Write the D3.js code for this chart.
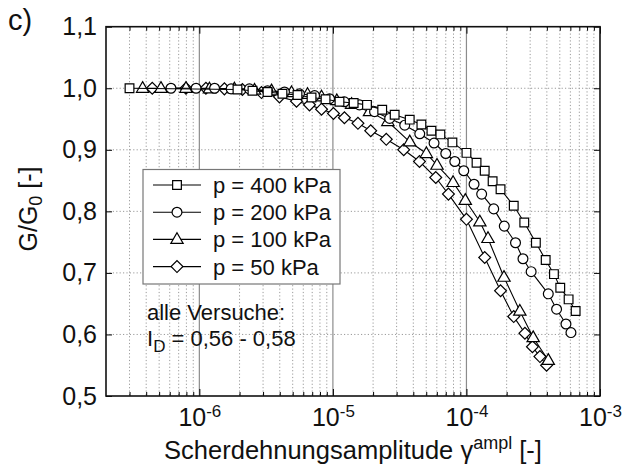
<!DOCTYPE html>
<html>
<head>
<meta charset="utf-8">
<script src="https://cdn.jsdelivr.net/npm/d3@7"></script>
<style>
  html, body { margin: 0; padding: 0; background: #fff; }
  svg { display: block; font-family: "Liberation Sans", Arial, Helvetica, sans-serif; }
</style>
</head>
<body>
<svg id="chart" width="629" height="470"></svg>
<script>
// ---------- data ----------
const seriesLabels = ["p = 400 kPa", "p = 200 kPa", "p = 100 kPa", "p = 50 kPa"];
const seriesSymbols = ["square", "circle", "triangle", "diamond"];

const gamma400 = [3.0e-7, 1.93e-6, 2.5e-6, 3.24e-6, 4.19e-6, 5.43e-6, 6.92e-6, 8.81e-6, 1.12e-5, 1.43e-5,
  1.80e-5, 2.34e-5, 2.90e-5, 3.76e-5, 4.60e-5, 5.47e-5, 6.38e-5, 7.85e-5, 1.0e-4, 1.19e-4,
  1.37e-4, 1.57e-4, 1.80e-4, 2.26e-4, 2.71e-4, 3.31e-4, 3.92e-4, 4.52e-4, 5.04e-4, 5.82e-4, 6.57e-4];
const ratio400 = [1.0, 0.998, 0.996, 0.994, 0.991, 0.989, 0.985, 0.982, 0.978, 0.976,
  0.973, 0.965, 0.957, 0.949, 0.941, 0.931, 0.925, 0.912, 0.895, 0.879,
  0.866, 0.849, 0.836, 0.809, 0.782, 0.749, 0.721, 0.698, 0.676, 0.657, 0.638];

const gamma200 = [6.13e-7, 9.45e-7, 1.30e-6, 1.73e-6, 2.37e-6, 3.24e-6, 4.34e-6, 5.62e-6, 7.29e-6, 9.44e-6,
  1.22e-5, 1.58e-5, 2.05e-5, 2.66e-5, 3.45e-5, 4.47e-5, 5.72e-5, 7.0e-5, 8.18e-5, 9.55e-5,
  1.14e-4, 1.30e-4, 1.60e-4, 1.92e-4, 2.33e-4, 2.65e-4, 3.05e-4, 4.10e-4, 4.73e-4, 5.56e-4, 6.06e-4];
const ratio200 = [1.0, 1.0, 1.0, 0.999, 0.999, 0.996, 0.994, 0.991, 0.988, 0.983,
  0.978, 0.973, 0.962, 0.951, 0.940, 0.926, 0.911, 0.894, 0.881, 0.866,
  0.844, 0.828, 0.804, 0.776, 0.749, 0.723, 0.702, 0.666, 0.641, 0.617, 0.603];

const gamma100 = [3.76e-7, 5.16e-7, 7.94e-7, 1.19e-6, 1.83e-6, 2.59e-6, 3.47e-6, 4.90e-6, 6.46e-6, 8.22e-6,
  1.07e-5, 1.38e-5, 1.88e-5, 2.58e-5, 3.76e-5, 5.01e-5, 6.02e-5, 7.94e-5, 9.80e-5, 1.26e-4,
  1.45e-4, 1.91e-4, 2.51e-4, 3.16e-4, 4.10e-4];
const ratio100 = [1.0, 1.0, 1.0, 0.999, 0.999, 0.997, 0.996, 0.993, 0.990, 0.986,
  0.980, 0.974, 0.962, 0.946, 0.913, 0.894, 0.875, 0.847, 0.818, 0.783,
  0.756, 0.693, 0.638, 0.595, 0.558];

const gamma50 = [4.44e-7, 7.94e-7, 1.12e-6, 1.54e-6, 2.10e-6, 2.92e-6, 3.98e-6, 5.34e-6, 6.68e-6, 8.22e-6,
  1.01e-5, 1.22e-5, 1.54e-5, 1.92e-5, 2.51e-5, 3.39e-5, 4.45e-5, 5.89e-5, 7.33e-5, 1.0e-4,
  1.37e-4, 1.80e-4, 2.26e-4, 2.74e-4, 3.12e-4, 3.55e-4, 3.98e-4];
const ratio50 = [1.0, 1.0, 1.0, 0.999, 0.998, 0.993, 0.986, 0.979, 0.973, 0.966,
  0.959, 0.952, 0.943, 0.931, 0.917, 0.900, 0.881, 0.855, 0.828, 0.787,
  0.725, 0.671, 0.629, 0.602, 0.580, 0.564, 0.550];

const yTickValues = [0.5, 0.6, 0.7, 0.8, 0.9, 1.0, 1.1];
const xMajorTicks = [1e-6, 1e-5, 1e-4, 1e-3];
const xTickExponents = ["-6", "-5", "-4", "-3"];

// ---------- layout ----------
const svg = d3.select("#chart");
const L = 106, R = 600, T = 26.7, B = 396;
const x = d3.scaleLog().domain([2e-7, 1e-3]).range([L, R]);
const y = d3.scaleLinear().domain([0.5, 1.1]).range([B, T]);

// minor tick values
const xMinor = [];
for (let d = -7; d <= -4; d++) {
  for (let k = 2; k <= 9; k++) {
    const v = k * Math.pow(10, d);
    if (v > 2e-7 * 1.0001 && v < 1e-3) xMinor.push(v);
  }
}

// ---------- grid ----------
const grid = svg.append("g");
grid.selectAll("line.vmin").data(xMinor).join("line")
  .attr("x1", d => x(d)).attr("x2", d => x(d)).attr("y1", T).attr("y2", B)
  .attr("stroke", "#9a9a9a").attr("stroke-width", 1).attr("stroke-dasharray", "1.2,2.2");
grid.selectAll("line.vmaj").data(xMajorTicks.slice(0, 3)).join("line")
  .attr("x1", d => x(d)).attr("x2", d => x(d)).attr("y1", T).attr("y2", B)
  .attr("stroke", "#8c8c8c").attr("stroke-width", 1.2);
grid.selectAll("line.h").data(yTickValues.slice(1, -1)).join("line")
  .attr("x1", L).attr("x2", R).attr("y1", d => y(d)).attr("y2", d => y(d))
  .attr("stroke", "#9a9a9a").attr("stroke-width", 1).attr("stroke-dasharray", "1.2,2.2");

// ---------- axes ----------
const fmtComma = d => d3.format(".1f")(d).replace(".", ",");

const axL = svg.append("g").attr("transform", `translate(${L},0)`)
  .call(d3.axisLeft(y).tickValues(yTickValues).tickFormat(fmtComma).tickSize(-6).tickPadding(9));
const axR = svg.append("g").attr("transform", `translate(${R},0)`)
  .call(d3.axisRight(y).tickValues(yTickValues).tickFormat("").tickSize(-6));
const axB = svg.append("g").attr("transform", `translate(0,${B})`)
  .call(d3.axisBottom(x).tickValues(xMajorTicks).tickFormat("").tickSize(-7).tickPadding(8));
const axBm = svg.append("g").attr("transform", `translate(0,${B})`)
  .call(d3.axisBottom(x).tickValues(xMinor).tickFormat("").tickSize(-4));
const axT = svg.append("g").attr("transform", `translate(0,${T})`)
  .call(d3.axisTop(x).tickValues(xMajorTicks).tickFormat("").tickSize(-7));
const axTm = svg.append("g").attr("transform", `translate(0,${T})`)
  .call(d3.axisTop(x).tickValues(xMinor).tickFormat("").tickSize(-4));

[axL, axR, axB, axBm, axT, axTm].forEach(g => {
  g.select(".domain").remove();
  g.selectAll(".tick line").attr("stroke", "#000").attr("stroke-width", 1);
});
axL.selectAll(".tick text").attr("font-size", 25).attr("fill", "#111")
  .attr("font-family", "'Liberation Sans', Arial, sans-serif");

// x tick labels with superscripts
axB.selectAll(".tick").each(function(d, i) {
  const t = d3.select(this).append("text")
    .attr("y", 30).attr("text-anchor", "middle").attr("fill", "#111")
    .attr("font-size", 25).attr("font-family", "'Liberation Sans', Arial, sans-serif");
  t.append("tspan").text("10");
  t.append("tspan").attr("dy", -9).attr("font-size", 17).text(xTickExponents[i]);
});

// frame
svg.append("rect").attr("x", L).attr("y", T).attr("width", R - L).attr("height", B - T)
  .attr("fill", "none").attr("stroke", "#111").attr("stroke-width", 1.6);

// ---------- series ----------
const series = [
  { g: gamma400, r: ratio400 },
  { g: gamma200, r: ratio200 },
  { g: gamma100, r: ratio100 },
  { g: gamma50, r: ratio50 }
];

function symbolPath(kind) {
  if (kind === "square") return d3.symbol(d3.symbolSquare, 76)();
  if (kind === "circle") return d3.symbol(d3.symbolCircle, 76)();
  if (kind === "triangle") return d3.symbol(d3.symbolTriangle, 66)();
  return d3.symbol(d3.symbolSquare, 70)();
}
function symbolTransform(kind, px, py) {
  if (kind === "diamond") return `translate(${px},${py}) rotate(45)`;
  if (kind === "triangle") return `translate(${px},${py + 0.5})`;
  return `translate(${px},${py})`;
}

const line = d3.line().x(d => x(d[0])).y(d => y(d[1]));
const plot = svg.append("g");
[3, 2, 1, 0].forEach(si => {
  const s = series[si];
  const pts = s.g.map((g, i) => [g, s.r[i]]);
  const kind = seriesSymbols[si];
  const grp = plot.append("g");
  grp.append("path").datum(pts).attr("d", line)
    .attr("fill", "none").attr("stroke", "#000").attr("stroke-width", 1.1);
  grp.selectAll("path.m").data(pts).join("path")
    .attr("d", symbolPath(kind))
    .attr("transform", d => symbolTransform(kind, x(d[0]), y(d[1])))
    .attr("fill", "#fff").attr("stroke", "#000").attr("stroke-width", 1.2);
});

// ---------- legend ----------
const lg = svg.append("g");
lg.append("rect").attr("x", 143).attr("y", 169.5).attr("width", 197).attr("height", 114.5)
  .attr("fill", "#fff").attr("stroke", "#777").attr("stroke-width", 1.2);
seriesLabels.forEach((lab, i) => {
  const cy = 185 + i * 27.2;
  const kind = seriesSymbols[i];
  lg.append("line").attr("x1", 153).attr("x2", 201).attr("y1", cy).attr("y2", cy)
    .attr("stroke", "#000").attr("stroke-width", 1.1);
  lg.append("path").attr("d", symbolPath(kind))
    .attr("transform", symbolTransform(kind, 177, cy))
    .attr("fill", "#fff").attr("stroke", "#000").attr("stroke-width", 1.2);
  lg.append("text").attr("x", 213).attr("y", cy + 8).attr("font-size", 22).attr("fill", "#111")
    .text(lab);
});

// annotation
svg.append("text").attr("x", 147).attr("y", 320).attr("font-size", 22).attr("fill", "#111")
  .text("alle Versuche:");
const idt = svg.append("text").attr("x", 147).attr("y", 346).attr("font-size", 22).attr("fill", "#111");
idt.append("tspan").text("I");
idt.append("tspan").attr("dy", 6).attr("font-size", 17).text("D");
idt.append("tspan").attr("dy", -6).text(" = 0,56 - 0,58");

// ---------- titles ----------
const xt = svg.append("text").attr("x", (L + R) / 2 + 0).attr("y", 459).attr("text-anchor", "middle")
  .attr("font-size", 25.5).attr("fill", "#111");
xt.append("tspan").text("Scherdehnungsamplitude γ");
xt.append("tspan").attr("dy", -10).attr("font-size", 18).text("ampl");
xt.append("tspan").attr("dy", 10).text(" [-]");

const yt = svg.append("text").attr("transform", "translate(37,209) rotate(-90)")
  .attr("text-anchor", "middle").attr("font-size", 25).attr("fill", "#111");
yt.append("tspan").text("G/G");
yt.append("tspan").attr("dy", 5).attr("font-size", 18).text("0");
yt.append("tspan").attr("dy", -5).text(" [-]");

svg.append("text").attr("x", 8).attr("y", 30).attr("font-size", 29).attr("fill", "#111").text("c)");
</script>
</body>
</html>
